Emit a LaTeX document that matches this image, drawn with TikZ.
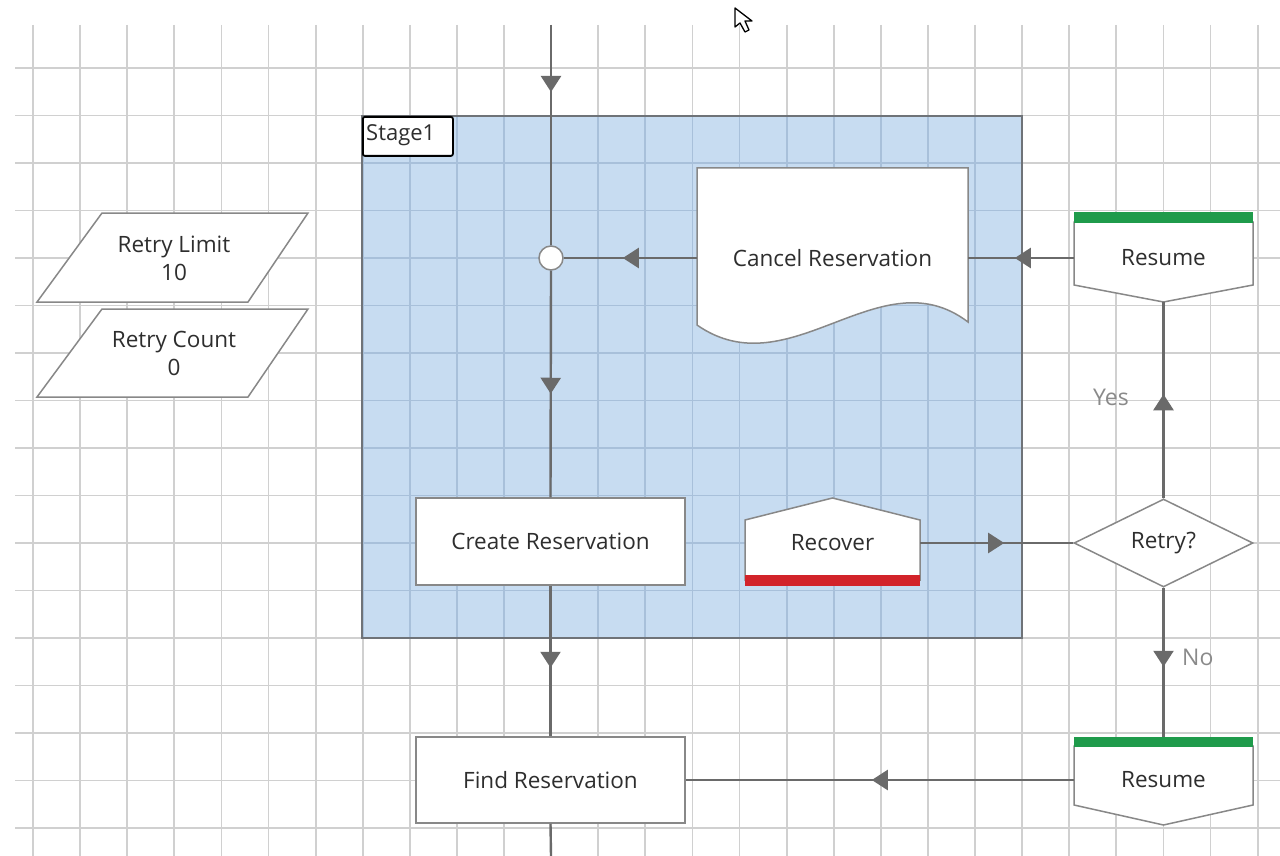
\documentclass[tikz,border=0pt]{standalone}
\usepackage{fontspec}
\setmainfont{Open Sans}
\usetikzlibrary{arrows.meta,decorations.markings,shapes.geometric}
\definecolor{gridc}{HTML}{D0D0D0}
\definecolor{gridin}{HTML}{A8C0DA}
\definecolor{stagefill}{HTML}{C7DCF1}
\definecolor{stageb}{HTML}{6F7378}
\definecolor{linec}{HTML}{6A6A6A}
\definecolor{shapeb}{HTML}{888888}
\definecolor{txt}{HTML}{2E2E2E}
\definecolor{lbl}{HTML}{8A8A8A}
\definecolor{resgreen}{HTML}{1F9B4B}
\definecolor{recred}{HTML}{D2232A}
\tikzset{
  conn/.style={draw=linec, line width=2.4pt},
  midarrow/.style={postaction={decorate,decoration={markings,
     mark=at position #1 with {\arrow[linec]{Triangle[width=20pt,length=16pt]}}}}},
  shapeline/.style={draw=shapeb, line width=1.5pt, fill=white, line join=miter},
  boxnode/.style={draw=shapeb, line width=1.5pt, fill=white, inner sep=0pt,
     text=txt, font=\fontsize{22.5}{27}\selectfont},
  txtnode/.style={inner sep=0pt, text=txt, font=\fontsize{22.5}{27}\selectfont, align=center},
  edgelbl/.style={inner sep=0pt, text=lbl, font=\fontsize{23}{27}\selectfont},
}
\begin{document}
\begin{tikzpicture}[x=1pt,y=-1pt]
\useasboundingbox (0,0) rectangle (1280,856);
\fill[white] (0,0) rectangle (1280,856);
% grid
\foreach \i in {0,...,26} {
  \draw[gridc, line width=1.8pt] ({33+47.1*\i},25) -- ({33+47.1*\i},856);
}
\foreach \j in {0,...,16} {
  \draw[gridc, line width=1.8pt] (15,{68+47.5*\j}) -- (1280,{68+47.5*\j});
}
% stage
\fill[stagefill] (362,116) rectangle (1022,638);
\begin{scope}
\clip (362,116) rectangle (1022,638);
\foreach \i in {0,...,26} {
  \draw[gridin, line width=1.8pt] ({33+47.1*\i},25) -- ({33+47.1*\i},856);
}
\foreach \j in {0,...,16} {
  \draw[gridin, line width=1.8pt] (15,{68+47.5*\j}) -- (1280,{68+47.5*\j});
}
\end{scope}
\draw[stageb, line width=1.6pt] (362,116) rectangle (1022,638);
\node[draw=black, line width=1.8pt, fill=white, rounded corners=2pt, minimum width=90pt,
  minimum height=39pt, anchor=north west, inner sep=0pt] (stagelbl) at (362,116) {};
\node[anchor=west, inner sep=0pt, text=txt, font=\fontsize{22}{26}\selectfont] (stagetxt)
  at (366,135.5) {Stage1};

% cursor
\draw[black, line width=1.3pt, fill=white, line join=round]
  (735,8) -- (735,27) -- (740,23) -- (745,32) -- (749,30) -- (745,21) -- (752,21) -- cycle;

% data items
\draw[shapeline] (102,213) -- (308,213) -- (248,302) -- (37,302) -- cycle;
\node[txtnode] (limit) at (174,258) {Retry Limit\\[1pt]10};
\draw[shapeline] (102,309) -- (308,309) -- (248,397) -- (37,397) -- cycle;
\node[txtnode] (count) at (174,353) {Retry Count\\[1pt]0};

% main flow nodes
\coordinate (top) at (551,25);
\coordinate (bottom) at (551,856);
\node[circle, draw=shapeb, line width=1.5pt, fill=white, minimum size=24pt, inner sep=0pt] (junc) at (551,258) {};
\node[boxnode, minimum width=269pt, minimum height=87pt] (create) at (550.5,541.5) {Create Reservation};
\node[boxnode, minimum width=269pt, minimum height=86pt] (find) at (550.5,780) {Find Reservation};

% cancel reservation document
\draw[shapeline] (697,168) -- (968,168) -- (968,322)
  .. controls (880,255) and (790,390) .. (697,325) -- cycle;
\node[txtnode, minimum width=271pt] (cancel) at (832.5,258) {Cancel Reservation};

% recover
\draw[shapeline] (745,520) -- (832.5,498) -- (920,520) -- (920,580) -- (745,580) -- cycle;
\fill[recred] (745,575) rectangle (920,586);
\node[txtnode, minimum width=175pt] (recover) at (832.5,543) {Recover};

% resume top
\draw[shapeline] (1074,222) -- (1253,222) -- (1253,285) -- (1163.5,302) -- (1074,285) -- cycle;
\fill[resgreen] (1074,212) rectangle (1253,223);
\node[txtnode, minimum width=179pt] (resume1) at (1163.5,258) {Resume};
\coordinate (resume1tip) at (1163.5,302);

% retry diamond
\node[diamond, aspect=2, draw=shapeb, line width=1.5pt, fill=white, inner sep=0pt,
  minimum width=179pt, minimum height=88pt, text=txt, font=\fontsize{22.5}{27}\selectfont]
  (retry) at (1163.5,543) {Retry?};

% resume bottom
\draw[shapeline] (1074,746) -- (1253,746) -- (1253,805) -- (1163.5,825) -- (1074,805) -- cycle;
\node[txtnode, minimum width=179pt] (resume2) at (1163.5,780) {Resume};
\coordinate (resume2top) at (1163.5,738);

% connectors
\draw[conn, midarrow=67pt] (top) -- (junc.north);
\draw[conn, midarrow=123pt] (junc.south) -- (create.north);
\draw[conn, midarrow=82pt] (create.south) -- (find.north);
\draw[conn] (find.south) -- (bottom);
\draw[conn, midarrow=74pt] (cancel.west) -- (junc.east);
\draw[conn, midarrow=59pt] (resume1.west) -- (cancel.east);
\draw[conn, midarrow=84pt] (recover.east) -- (retry.west);
\draw[conn, midarrow=104pt] (retry.north) -- (resume1tip);
\draw[conn, midarrow=79pt] (retry.south) -- (resume2top);
\draw[conn, midarrow=202pt] (resume2.west) -- (find.east);
\fill[resgreen] (1074,737) rectangle (1253,747);

% labels
\node[edgelbl] (yes) at (1111,397) {Yes};
\node[edgelbl, anchor=west] (no) at (1182,657) {No};
\end{tikzpicture}
\end{document}
